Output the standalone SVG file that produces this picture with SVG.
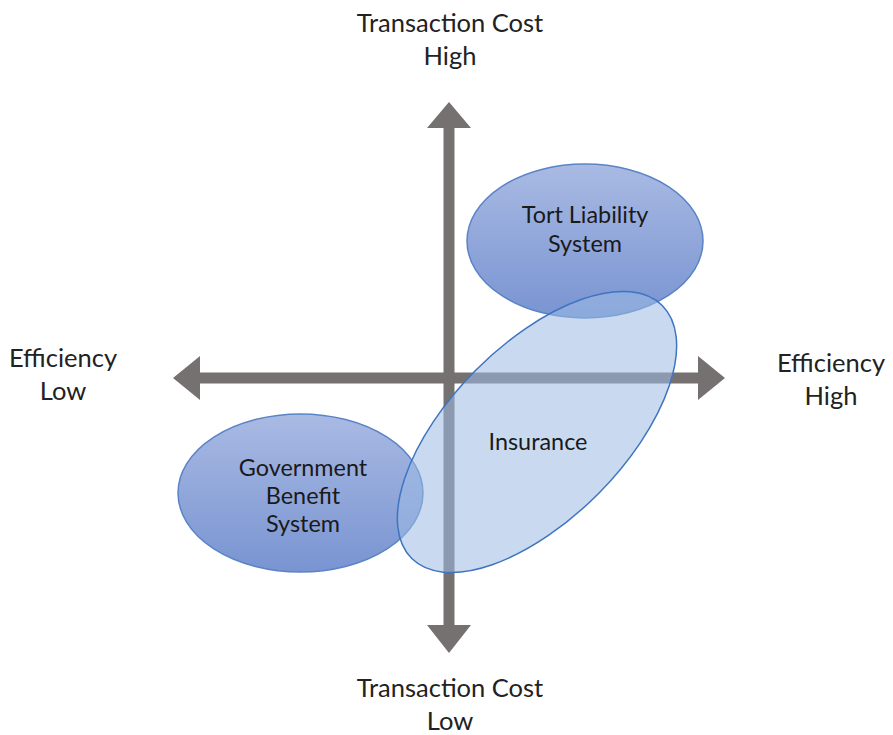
<svg xmlns="http://www.w3.org/2000/svg" width="893" height="735" viewBox="0 0 893 735">
  <defs>
    <linearGradient id="bubbleFill" x1="0" y1="0" x2="0" y2="1">
      <stop offset="0" stop-color="#a9bae3"/>
      <stop offset="1" stop-color="#7994d2"/>
    </linearGradient>
    <style>
      .axis { fill: #767171; }
      .label { font-family: Lato, "Liberation Sans", sans-serif; font-size: 25.5px; fill: #222222; text-anchor: middle; }
      .node-text { font-family: Lato, "Liberation Sans", sans-serif; font-size: 23.4px; fill: #1a1a1a; text-anchor: middle; }
      .bubble { fill: url(#bubbleFill); stroke: #5a84c6; stroke-width: 1.5; }
      .overlay { fill: #9dbbe3; fill-opacity: 0.55; stroke: #3f74c0; stroke-width: 1.5; }
    </style>
  </defs>

  <rect width="893" height="735" fill="#ffffff"/>

  <!-- axes: two double-headed block arrows -->
  <g id="axes">
    <path class="axis" d="M449 102 L471 128 L454.5 128 L454.5 625 L471 625 L449 653 L427 625 L443.5 625 L443.5 128 L427 128 Z"/>
    <path class="axis" d="M173 378 L200 356 L200 372.5 L698 372.5 L698 356 L725 378 L698 400 L698 383.5 L200 383.5 L200 400 Z"/>
  </g>

  <!-- axis labels -->
  <g id="axis-labels">
    <text class="label" x="450" y="32">Transaction Cost</text>
    <text class="label" x="450" y="65">High</text>
    <text class="label" x="450" y="697">Transaction Cost</text>
    <text class="label" x="450" y="730">Low</text>
    <text class="label" x="63" y="367">Efficiency</text>
    <text class="label" x="63" y="400">Low</text>
    <text class="label" x="831" y="372">Efficiency</text>
    <text class="label" x="831" y="405">High</text>
  </g>

  <g id="tort-liability">
    <ellipse class="bubble" cx="585" cy="241" rx="118" ry="77"/>
    <text class="node-text" x="585" y="223">Tort Liability</text>
    <text class="node-text" x="585" y="252">System</text>
  </g>

  <g id="government-benefit">
    <ellipse class="bubble" cx="300.5" cy="493" rx="122.5" ry="79"/>
    <text class="node-text" x="303" y="476">Government</text>
    <text class="node-text" x="303" y="504">Benefit</text>
    <text class="node-text" x="303" y="532">System</text>
  </g>

  <g id="insurance">
    <ellipse class="overlay" cx="537" cy="432" rx="178" ry="87" transform="rotate(-45.3 537 432)"/>
    <text class="node-text" x="538" y="450">Insurance</text>
  </g>
</svg>
